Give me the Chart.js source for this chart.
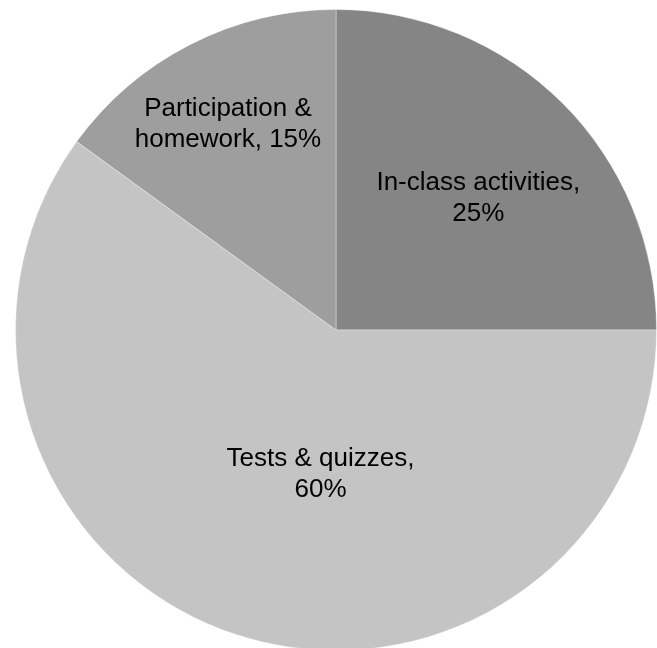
<!DOCTYPE html>
<html>
<head>
<meta charset="utf-8">
<script src="https://cdn.jsdelivr.net/npm/chart.js@4/dist/chart.umd.min.js"></script>
<style>
  html, body { margin: 0; padding: 0; background: #ffffff; overflow: hidden; }
  #wrap { position: relative; width: 657px; height: 660px; }
</style>
</head>
<body>
<div id="wrap"><canvas id="pie"></canvas></div>
<script>
// ── DATA ────────────────────────────────────────────────────────────
var categories = ["In-class activities", "Tests & quizzes", "Participation & homework"];
var shares = [25, 60, 15];
var labelLines = [
    ["In-class activities,", "25%"],
    ["Tests & quizzes,", "60%"],
    ["Participation &", "homework, 15%"]
];

// ── STYLE ───────────────────────────────────────────────────────────
var COLORS = ["#858585", "#c4c4c4", "#9e9e9e"];
var LABEL_R = [0.604, 0.454, 0.725];  // label distance, fraction of radius
var LABEL_TURN = [2.3, -11.9, -0.7];  // label angle offset from slice middle, degrees
var FONT = "26px 'Liberation Sans', Arial, sans-serif";
var LINE_H = 31;

// ── LABEL PLUGIN ────────────────────────────────────────────────────
var sliceLabels = {
    id: "sliceLabels",
    afterDatasetsDraw: function (chart) {
        var ctx = chart.ctx;
        var arcs = chart.getDatasetMeta(0).data;
        ctx.save();
        ctx.font = FONT;
        ctx.fillStyle = "#000000";
        ctx.textAlign = "center";
        ctx.textBaseline = "middle";
        for (var i = 0; i < arcs.length; i++) {
            var a = arcs[i];
            var mid = (a.startAngle + a.endAngle) / 2 + LABEL_TURN[i] * Math.PI / 180;
            var r = a.outerRadius * LABEL_R[i];
            var cx = a.x + Math.cos(mid) * r;
            var cy = a.y + Math.sin(mid) * r;
            var lines = labelLines[i];
            var y0 = cy - (lines.length - 1) * LINE_H / 2;
            for (var j = 0; j < lines.length; j++) {
                ctx.fillText(lines[j], cx, y0 + j * LINE_H);
            }
        }
        ctx.restore();
    }
};

// ── CHART ───────────────────────────────────────────────────────────
new Chart(document.getElementById("pie"), {
    type: "pie",
    data: {
        labels: categories,
        datasets: [{
            data: shares,
            backgroundColor: COLORS,
            borderColor: "rgba(255,255,255,0.35)",
            borderWidth: 1
        }]
    },
    options: {
        responsive: true,
        maintainAspectRatio: false,
        animation: false,
        layout: { padding: { left: 15, right: 0, top: 9, bottom: 9 } },
        plugins: {
            legend: { display: false },
            tooltip: { enabled: false }
        }
    },
    plugins: [sliceLabels]
});
</script>
</body>
</html>
